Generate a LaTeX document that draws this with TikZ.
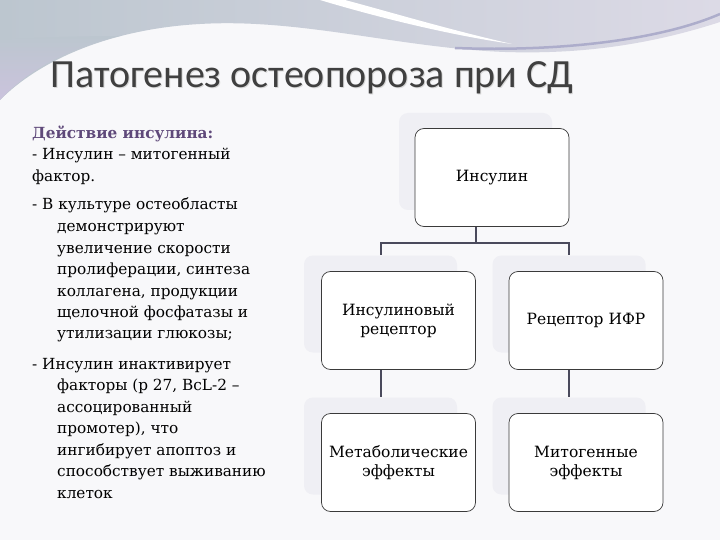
\documentclass[tikz,border=0pt]{standalone}
\usepackage{fontspec}
\setmainfont{DejaVu Serif}
\newfontfamily\titlefont{Carlito}
\usetikzlibrary{calc}
\definecolor{bgc}{HTML}{F8F8FA}
\definecolor{bandA}{HTML}{BCC6CF}
\definecolor{bandB}{HTML}{DCDAE6}
\definecolor{lav}{HTML}{CBC3DD}
\definecolor{bandline}{HTML}{ADADCB}
\definecolor{titlec}{HTML}{404040}
\definecolor{headc}{HTML}{5F497A}
\definecolor{shadc}{HTML}{EFEFF4}
\definecolor{linec}{HTML}{4A4A5C}
\definecolor{boxline}{HTML}{3A3A3A}
\tikzset{
  body/.style={anchor=base west, inner sep=0pt, font=\fontsize{15.3}{18}\selectfont, text=black},
  shadowbox/.style={rectangle, rounded corners=9pt, fill=shadc, minimum width=153pt, minimum height=97pt, inner sep=0pt},
  chartbox/.style={rectangle, rounded corners=9pt, draw=boxline, line width=0.7pt, fill=white, minimum width=154pt, minimum height=98pt, inner sep=0pt, align=center, font=\fontsize{15.5}{19}\selectfont},
  conn/.style={draw=linec, line width=2pt}
}
\begin{document}
\begin{tikzpicture}[x=1pt,y=-1pt]
\useasboundingbox (0,0) rectangle (720,540);
\fill[bgc] (0,0) rectangle (720,540);
% top decoration
\shade[left color=bandA, right color=bandB] (0,0) -- (720,0) -- (720,22)
  .. controls (640,48) and (570,54) .. (505,52)
  .. controls (400,48) and (300,18) .. (200,24)
  .. controls (110,29) and (40,60) .. (0,100) -- cycle;
\shade[top color=bandA, bottom color=lav] (0,40) -- (0,100) .. controls (30,68) and (70,48) .. (120,36) .. controls (70,36) and (30,38) .. (0,40) -- cycle;
\fill[white] (320,0) .. controls (380,18) and (450,35) .. (512,44) .. controls (450,30) and (390,12) .. (345,0) -- cycle;
\draw[bandline, line width=2.5pt] (455,48) .. controls (560,52) and (660,40) .. (720,14);
% title
\node[anchor=base west, inner sep=0pt, text=black!15, font=\titlefont\fontsize{40}{44}\selectfont] at (51,89) {Патогенез остеопороза при СД};
\node (title) [anchor=base west, inner sep=0pt, text=titlec, font=\titlefont\fontsize{40}{44}\selectfont] at (50,88) {Патогенез остеопороза при СД};
% left text
\node (l1) [body, text=headc, font=\bfseries\fontsize{15.3}{18}\selectfont] at (32,139) {Действие инсулина:};
\node (l2) [body] at (32,160) {- Инсулин – митогенный};
\node (l3) [body] at (32,182) {фактор.};
\node (l4) [body] at (32,210) {- В культуре остеобласты};
\node (l5) [body] at (57,231) {демонстрируют};
\node (l6) [body] at (57,253) {увеличение скорости};
\node (l7) [body] at (57,274) {пролиферации, синтеза};
\node (l8) [body] at (57,296) {коллагена, продукции};
\node (l9) [body] at (57,317) {щелочной фосфатазы и};
\node (l10) [body] at (57,338) {утилизации глюкозы;};
\node (l11) [body] at (32,369) {- Инсулин инактивирует};
\node (l12) [body] at (57,390) {факторы (р 27, BcL-2 –};
\node (l13) [body] at (57,412) {ассоцированный};
\node (l14) [body] at (57,433) {промотер), что};
\node (l15) [body] at (57,455) {ингибирует апоптоз и};
\node (l16) [body] at (57,476) {способствует выживанию};
\node (l17) [body] at (57,498) {клеток};
% shadows
\node (sI) [shadowbox] at (475.5,161.5) {};
\node (sA) [shadowbox] at (380.5,304) {};
\node (sB) [shadowbox] at (569,304) {};
\node (sC) [shadowbox] at (380.5,446) {};
\node (sD) [shadowbox] at (569,446) {};
% connectors
\coordinate (hbar) at (0,243);
\draw[conn] (sI.south) -- (sI.south |- hbar) -| (sA.north);
\draw[conn] (sI.south |- hbar) -| (sB.north);
\draw[conn] (sA.south) -- (sC.north);
\draw[conn] (sB.south) -- (sD.north);
% boxes
\node (bI) [chartbox] at (492,177.5) {Инсулин};
\node (bA) [chartbox] at (398.5,320.5) {Инсулиновый\\рецептор};
\node (bB) [chartbox] at (586,320.5) {Рецептор ИФР};
\node (bC) [chartbox] at (398.5,462.5) {Метаболические\\эффекты};
\node (bD) [chartbox] at (586,462.5) {Митогенные\\эффекты};
\end{tikzpicture}
\end{document}
